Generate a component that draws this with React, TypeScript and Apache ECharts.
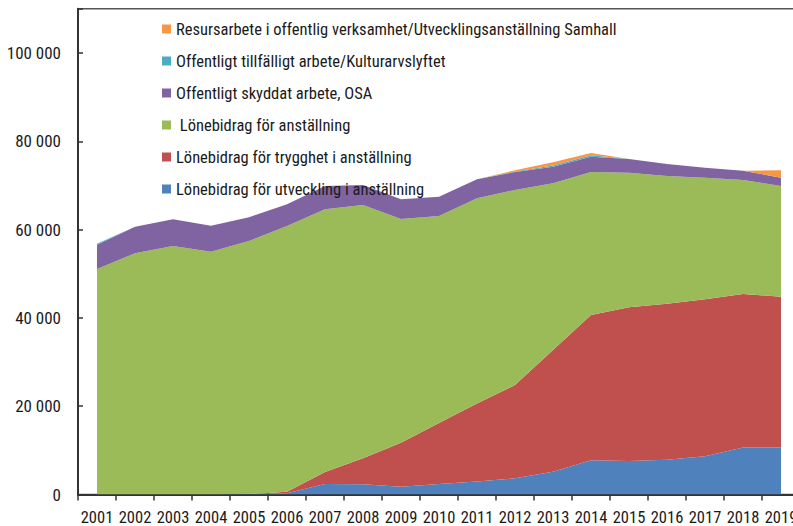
import React, { useEffect, useRef } from "react";
import * as echarts from "echarts";

const years = ["2001","2002","2003","2004","2005","2006","2007","2008","2009","2010","2011","2012","2013","2014","2015","2016","2017","2018","2019"];

const utveckling = [0, 0, 0, 0, 100, 300, 2380, 2310, 1770, 2350, 2950, 3670, 5160, 7750, 7590, 7850, 8650, 10650, 10650];
const trygghet = [0, 0, 0, 0, 0, 300, 2720, 5890, 9930, 13850, 17650, 21130, 27540, 32910, 34810, 35350, 35560, 34760, 34150];
const anstallning = [51080, 54630, 56290, 54990, 57320, 60220, 59500, 57370, 50700, 46880, 46480, 44170, 37790, 32390, 30490, 28940, 27550, 25820, 25080];
const osa = [5500, 6030, 6040, 5890, 5370, 4910, 5280, 4530, 4460, 4370, 4310, 4080, 3760, 3460, 3100, 2720, 2260, 2110, 1870];
const tillfalligt = [200, 0, 0, 0, 0, 0, 0, 0, 0, 0, 0, 100, 250, 300, 0, 0, 0, 0, 0];
const resurs = [0, 0, 0, 0, 0, 0, 0, 0, 0, 0, 0, 300, 750, 550, 0, 0, 0, 0, 1700];

const seriesDefs = [
  { name: "Lönebidrag för utveckling i anställning", data: utveckling, color: "#4F81BD" },
  { name: "Lönebidrag för trygghet i anställning", data: trygghet, color: "#C0504D" },
  { name: " Lönebidrag för anställning", data: anstallning, color: "#9BBB59" },
  { name: "Offentligt skyddat arbete, OSA", data: osa, color: "#8064A2" },
  { name: "Offentligt tillfälligt arbete/Kulturarvslyftet", data: tillfalligt, color: "#4BACC6" },
  { name: "Resursarbete i offentlig verksamhet/Utvecklingsanställning Samhall", data: resurs, color: "#F79646" },
];

const FONT = "'Roboto Condensed', 'Liberation Sans Narrow', sans-serif";

export default function App() {
  const ref = useRef<HTMLDivElement>(null);
  useEffect(() => {
    if (!ref.current) return;
    const chart = echarts.init(ref.current, null, { renderer: "svg" });
    const fmt = (v: number) =>
      v > 100000 ? "" : String(v).replace(/\B(?=(\d{3})+(?!\d))/g, " ");
    chart.setOption({
      animation: false,
      backgroundColor: "#ffffff",
      textStyle: { fontFamily: FONT },
      grid: {
        left: 78,
        top: 8.8,
        width: 722,
        height: 485.7,
        outerBoundsMode: "none",
        containLabel: false,
        show: true,
        borderColor: "#555",
        borderWidth: 1.5,
        backgroundColor: "transparent",
      },
      legend: {
        orient: "vertical",
        left: 157,
        top: 14,
        icon: "rect",
        itemWidth: 9,
        itemHeight: 9,
        itemGap: 12,
        data: [...seriesDefs].reverse().map((s) => s.name),
        textStyle: { fontFamily: FONT, fontSize: 16.5, color: "#1a1a1a", lineHeight: 20 },
        selectedMode: false,
      },
      xAxis: [
        {
          type: "category",
          data: years,
          boundaryGap: true,
          axisLine: { show: true, lineStyle: { color: "#333", width: 2 } },
          axisTick: { show: true, inside: false, length: 6, lineStyle: { color: "#333", width: 1.5 } },
          axisLabel: { interval: 0, fontFamily: FONT, fontSize: 16.5, color: "#1a1a1a", margin: 14 },
          splitLine: { show: false },
        },
        {
          type: "category",
          data: years,
          boundaryGap: true,
          position: "bottom",
          axisLine: { show: false },
          axisTick: { show: true, inside: true, length: 5, lineStyle: { color: "#333", width: 1.5 } },
          axisLabel: { show: false },
          splitLine: { show: false },
        },
      ],
      yAxis: {
        type: "value",
        min: 0,
        max: 110000,
        interval: 20000,
        axisLine: { show: true, lineStyle: { color: "#333", width: 2 } },
        axisTick: { show: true, inside: true, length: 5, lineStyle: { color: "#333", width: 1.5 } },
        axisLabel: { fontFamily: FONT, fontSize: 17, color: "#1a1a1a", margin: 17, formatter: fmt },
        splitLine: { show: false },
      },
      series: seriesDefs.map((s) => ({
        name: s.name,
        type: "line",
        stack: "total",
        xAxisIndex: 0,
        data: s.data,
        showSymbol: false,
        symbol: "none",
        lineStyle: { width: 0, color: s.color },
        itemStyle: { color: s.color },
        areaStyle: { color: s.color, opacity: 1 },
        emphasis: { disabled: true },
      })),
    });
    return () => chart.dispose();
  }, []);
  return <div ref={ref} style={{ position: "fixed", left: 0, top: 0, width: 793, height: 526 }} />;
}
